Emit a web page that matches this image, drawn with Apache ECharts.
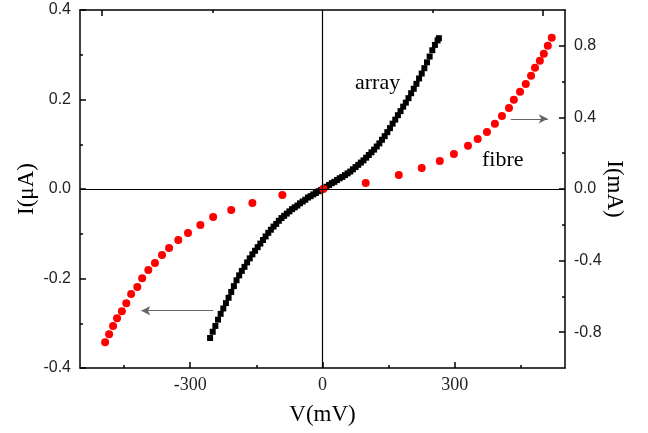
<!DOCTYPE html>
<html>
    <head>
        <meta charset="UTF-8">
        <title>I-V array / fibre</title>
        <script src="https://cdn.jsdelivr.net/npm/echarts@6/dist/echarts.min.js"></script>
        <style>
            body,html{margin:0;padding:0;background:#fff;}
            #ivChart{width:648px;height:433px;}
        </style>
    </head>
    <body>
        <div id="ivChart"></div>
        <script type="text/javascript">
          // array: V (mV) -> I (uA), left axis
          var arrayV = [-255,-249,-243,-237,-231,-225,-219,-213,-207,-201,-195,-189,-183,-177,-171,-165,-159,-153,-147,-141,
                        -135,-129,-123,-117,-111,-105,-99,-93,-87,-81,-75,-69,-63,-57,-51,-45,-39,-33,-27,-21,-15,-9,-3,
                        3,9,15,21,27,33,39,45,51,57,63,69,75,81,87,93,99,105,111,117,123,129,135,141,147,153,159,165,
                        171,177,183,189,195,201,207,213,219,225,231,237,243,249,255,261,264];
          var arrayI = [-0.333,-0.319,-0.306,-0.292,-0.279,-0.267,-0.255,-0.243,-0.230,-0.217,-0.204,-0.193,-0.183,-0.174,-0.164,-0.155,-0.146,-0.138,-0.130,-0.122,
                        -0.114,-0.106,-0.098,-0.091,-0.084,-0.078,-0.071,-0.065,-0.060,-0.055,-0.050,-0.045,-0.041,-0.037,-0.032,-0.028,-0.024,-0.019,-0.016,-0.012,-0.009,-0.005,-0.002,
                        0.002,0.005,0.009,0.013,0.016,0.020,0.024,0.027,0.031,0.035,0.039,0.044,0.049,0.054,0.059,0.064,0.070,0.076,0.082,0.088,0.095,0.102,0.110,0.118,0.127,0.136,0.146,0.155,
                        0.165,0.174,0.184,0.193,0.203,0.214,0.224,0.235,0.247,0.258,0.270,0.283,0.296,0.310,0.322,0.332,0.337];
          // fibre: V (mV) -> I (mA), right axis
          var fibreV = [-493,-484,-475,-466,-455,-445,-434,-420,-409,-395,-380,-364,-348,-327,-305,-277,-248,-207,-159,-91,
                        2,98,173,225,266,298,330,352,373,391,407,423,434,448,461,473,482,493,502,511,520];
          var fibreI = [-0.856,-0.811,-0.766,-0.722,-0.683,-0.638,-0.587,-0.548,-0.498,-0.453,-0.414,-0.369,-0.330,-0.285,-0.246,-0.201,-0.157,-0.117,-0.078,-0.034,
                        0,0.034,0.078,0.117,0.157,0.196,0.241,0.280,0.319,0.364,0.408,0.453,0.498,0.543,0.587,0.632,0.677,0.716,0.755,0.800,0.845];
          var xMajor = [-300,0,300], xMinor = [-450,-150,150,450];
          var topMajor = [-500,500], topMinor = [-250,250];
          var rightMajor = [-0.8,-0.4,0,0.4,0.8], rightMinor = [-0.6,-0.2,0.2,0.6];

          function pairs(xs, ys){
              var out = [];
              for (var i = 0; i < xs.length; i++) out.push([xs[i], ys[i]]);
              return out;
          }

          var serif = '"Liberation Serif", "DejaVu Serif", serif';
          var sans = '"Liberation Sans", Arial, sans-serif';
          var blackLine = {color:'#000', width:1.5};

          var ivChart = echarts.init(document.getElementById("ivChart"));
          var ivOption = {
              animation: false,
              grid: {left:80, right:83, top:10, bottom:65, containLabel:false, outerBoundsMode:'none'},
              xAxis: [
                  {
                      type:'value', min:-550, max:550, position:'bottom',
                      name:'V(mV)', nameLocation:'middle', nameGap:35,
                      nameTextStyle:{fontFamily:serif, fontSize:23, color:'#000'},
                      axisLine:{show:true, onZero:false, lineStyle:blackLine},
                      axisTick:{inside:true, length:6, customValues:xMajor, lineStyle:blackLine},
                      axisLabel:{customValues:xMajor, fontFamily:serif, fontSize:18, color:'#222', margin:8},
                      splitLine:{show:false}
                  },
                  {
                      type:'value', min:-550, max:550, position:'top',
                      axisLine:{show:true, onZero:false, lineStyle:blackLine},
                      axisTick:{inside:true, length:6, customValues:topMajor, lineStyle:blackLine},
                      axisLabel:{show:false}, splitLine:{show:false}
                  },
                  {
                      type:'value', min:-550, max:550, position:'bottom',
                      axisLine:{show:false, onZero:false},
                      axisTick:{inside:true, length:3, customValues:xMinor, lineStyle:blackLine},
                      axisLabel:{show:false}, splitLine:{show:false}
                  },
                  {
                      type:'value', min:-550, max:550, position:'top',
                      axisLine:{show:false, onZero:false},
                      axisTick:{inside:true, length:3, customValues:topMinor, lineStyle:blackLine},
                      axisLabel:{show:false}, splitLine:{show:false}
                  }
              ],
              yAxis: [
                  {
                      type:'value', min:-0.4, max:0.4, interval:0.2, position:'left',
                      name:'I(\u03bcA)', nameLocation:'middle', nameGap:42, nameMoveOverlap:false,
                      nameTextStyle:{fontFamily:serif, fontSize:23, color:'#000'},
                      axisLine:{show:true, onZero:false, lineStyle:blackLine},
                      axisTick:{inside:true, length:6, lineStyle:blackLine},
                      minorTick:{show:true, splitNumber:2, length:3, lineStyle:{color:'#000', width:1.5}},
                      axisLabel:{fontFamily:sans, fontSize:16, color:'#222', margin:9,
                                 formatter:function(v){ return v.toFixed(1); }},
                      splitLine:{show:false}
                  },
                  {
                      type:'value', min:-1, max:1, position:'right',
                      name:'I(mA)', nameLocation:'middle', nameGap:38, nameRotate:-90, nameMoveOverlap:false,
                      nameTextStyle:{fontFamily:serif, fontSize:23, color:'#000'},
                      axisLine:{show:true, onZero:false, lineStyle:blackLine},
                      axisTick:{inside:true, length:6, customValues:rightMajor, lineStyle:blackLine},
                      axisLabel:{customValues:rightMajor, fontFamily:sans, fontSize:16, color:'#222', margin:9,
                                 formatter:function(v){ return v.toFixed(1); }},
                      splitLine:{show:false}
                  },
                  {
                      type:'value', min:-1, max:1, position:'right',
                      axisLine:{show:false, onZero:false},
                      axisTick:{inside:true, length:3, customValues:rightMinor, lineStyle:blackLine},
                      axisLabel:{show:false}, splitLine:{show:false}
                  }
              ],
              series: [
                  {
                      name:'array', type:'scatter', xAxisIndex:0, yAxisIndex:0,
                      symbol:'rect', symbolSize:6,
                      itemStyle:{color:'#000', opacity:1},
                      data: pairs(arrayV, arrayI),
                      z:3,
                      markLine:{
                          silent:true, symbol:'none', animation:false,
                          label:{show:false},
                          lineStyle:{color:'#000', width:1.2, type:'solid'},
                          data:[
                              {xAxis:0},
                              {yAxis:0},
                              [
                                  {coord:[-248,-0.272], symbol:'none'},
                                  {coord:[-411,-0.272], symbol:'arrow', symbolSize:[7,9],
                                   lineStyle:{color:'#666', width:1}}
                              ]
                          ]
                      }
                  },
                  {
                      name:'fibre', type:'scatter', xAxisIndex:0, yAxisIndex:1,
                      symbol:'circle', symbolSize:8,
                      itemStyle:{color:'#ff0000', opacity:1},
                      data: pairs(fibreV, fibreI),
                      z:4,
                      markLine:{
                          silent:true, symbol:'none', animation:false,
                          label:{show:false},
                          lineStyle:{color:'#666', width:1, type:'solid'},
                          data:[
                              [
                                  {coord:[427,0.392], symbol:'none'},
                                  {coord:[511,0.392], symbol:'arrow', symbolSize:[7,9]}
                              ]
                          ]
                      }
                  }
              ],
              graphic: [
                  {type:'text', left:355, top:72, style:{text:'array', font:'22px ' + serif, fill:'#000'}},
                  {type:'text', left:482, top:149, style:{text:'fibre', font:'22px ' + serif, fill:'#000'}}
              ]
          };
          ivChart.setOption(ivOption);
        </script>
    </body>
</html>
